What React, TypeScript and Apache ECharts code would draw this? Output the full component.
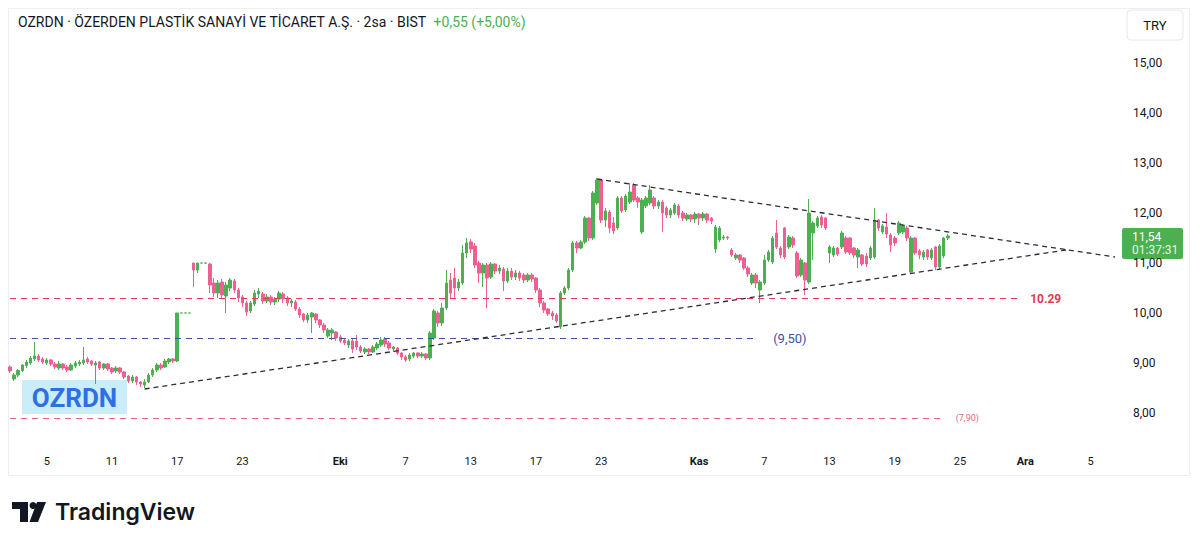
import React, { useEffect, useRef } from "react";
import * as echarts from "echarts";

// ---- Data (2h bars, [open, close, low, high]) ----
const sepCandles: number[][] = [
  [8.92, 8.84, 8.8, 8.95], [8.68, 8.76, 8.64, 8.8], [8.76, 8.85, 8.72, 8.88], [8.85, 8.96, 8.82, 8.98],
  [8.95, 9.02, 8.9, 9.06], [9.0, 9.1, 8.96, 9.14], [9.08, 9.14, 9.04, 9.42], [9.14, 9.06, 9.02, 9.18],
  [9.08, 9.02, 8.98, 9.12], [9.0, 9.06, 8.96, 9.1], [9.06, 8.98, 8.94, 9.08], [8.98, 8.92, 8.88, 9.02],
  [8.9, 8.98, 8.86, 9.04], [8.98, 8.9, 8.86, 9.0], [8.92, 8.86, 8.82, 8.96], [8.86, 8.96, 8.84, 9.0],
  [8.94, 9.0, 8.9, 9.04], [8.98, 9.02, 8.94, 9.06], [9.0, 9.06, 8.96, 9.32], [9.08, 9.02, 8.98, 9.12],
  [9.04, 8.98, 8.94, 9.06], [8.96, 9.0, 8.58, 9.04], [9.02, 8.9, 8.86, 9.04], [8.9, 8.98, 8.86, 9.0],
  [8.98, 8.88, 8.84, 9.0], [8.9, 8.82, 8.78, 8.92], [8.84, 8.9, 8.8, 8.94], [8.9, 8.82, 8.78, 8.92],
  [8.82, 8.72, 8.68, 8.84], [8.74, 8.64, 8.6, 8.76], [8.64, 8.72, 8.6, 8.76], [8.72, 8.62, 8.56, 8.74],
  [8.62, 8.58, 8.52, 8.64], [8.56, 8.62, 8.5, 8.68], [8.62, 8.76, 8.6, 8.8], [8.76, 8.86, 8.72, 8.9],
  [8.86, 8.96, 8.82, 9.0], [8.96, 8.9, 8.86, 9.0], [8.92, 9.04, 8.9, 9.08], [9.02, 9.08, 8.98, 9.1],
  [9.08, 9.04, 9.0, 9.1], [9.04, 10.0, 9.02, 10.0], [10, 10, 10, 10], [10, 10, 10, 10],
  [10, 10, 10, 10], [11.0, 10.86, 10.52, 11.0], [10.86, 11.0, 10.8, 11.0], [11, 11, 11, 11],
  [11.0, 11.0, 10.98, 11.0], [10.98, 10.56, 10.4, 11.0], [10.6, 10.4, 10.32, 10.7], [10.4, 10.6, 10.3, 10.66],
  [10.62, 10.36, 10.3, 10.68], [10.34, 10.56, 10.0, 10.62], [10.5, 10.66, 10.44, 10.7], [10.64, 10.46, 10.4, 10.68],
  [10.46, 10.3, 10.22, 10.5], [10.32, 10.2, 10.12, 10.36], [10.2, 10.02, 9.94, 10.24], [10.04, 10.2, 10.0, 10.24],
  [10.18, 10.4, 10.14, 10.46], [10.38, 10.44, 10.3, 10.5], [10.38, 10.24, 10.18, 10.42], [10.24, 10.32, 10.2, 10.38],
  [10.32, 10.22, 10.16, 10.36], [10.22, 10.28, 10.16, 10.32], [10.28, 10.4, 10.22, 10.44], [10.38, 10.28, 10.2, 10.42],
  [10.3, 10.2, 10.14, 10.34], [10.2, 10.24, 10.12, 10.28], [10.22, 10.08, 10.04, 10.26], [10.08, 9.96, 9.9, 10.12],
  [9.98, 9.86, 9.82, 10.0], [9.86, 9.96, 9.8, 10.0], [9.92, 10.0, 9.6, 10.02], [9.98, 9.86, 9.8, 10.0],
  [9.86, 9.76, 9.7, 9.88], [9.76, 9.66, 9.6, 9.8], [9.54, 9.66, 9.5, 9.7], [9.6, 9.66, 9.46, 9.7],
  [9.62, 9.5, 9.44, 9.64],
];

const octCandles: number[][] = [
  [9.52, 9.44, 9.4, 9.56], [9.46, 9.4, 9.36, 9.5], [9.36, 9.44, 9.3, 9.48], [9.44, 9.28, 9.2, 9.48],
  [9.44, 9.32, 9.26, 9.56], [9.32, 9.24, 9.2, 9.36], [9.22, 9.28, 9.18, 9.32], [9.28, 9.22, 9.18, 9.3],
  [9.22, 9.32, 9.2, 9.36], [9.3, 9.38, 9.26, 9.42], [9.36, 9.46, 9.32, 9.52], [9.48, 9.38, 9.32, 9.52],
  [9.4, 9.3, 9.26, 9.44], [9.28, 9.32, 9.22, 9.34], [9.3, 9.2, 9.16, 9.32], [9.2, 9.12, 9.06, 9.22],
  [9.12, 9.06, 9.02, 9.16], [9.08, 9.16, 9.04, 9.2], [9.14, 9.2, 9.1, 9.22], [9.2, 9.14, 9.1, 9.22],
  [9.14, 9.18, 9.1, 9.22], [9.18, 9.1, 9.06, 9.2], [9.1, 9.6, 9.06, 9.64], [9.5, 10.04, 9.46, 10.08],
  [10.0, 9.8, 9.72, 10.04], [9.8, 10.1, 9.74, 10.2], [10.1, 10.6, 10.06, 10.86], [10.66, 10.4, 10.3, 10.8],
  [10.7, 10.5, 10.28, 10.9], [10.5, 10.62, 10.44, 10.68], [10.6, 11.2, 10.56, 11.36], [11.2, 11.4, 11.1, 11.5],
  [11.42, 11.28, 11.2, 11.48], [11.34, 10.96, 10.9, 11.4], [11.0, 10.8, 10.6, 11.04], [10.8, 10.96, 10.52, 11.0],
  [10.96, 10.7, 10.1, 11.0], [10.72, 10.98, 10.68, 11.02], [10.98, 10.84, 10.78, 11.0], [10.84, 10.9, 10.78, 10.96],
  [10.88, 10.64, 10.44, 10.92], [10.64, 10.84, 10.6, 10.9], [10.84, 10.72, 10.66, 10.9], [10.72, 10.8, 10.66, 10.86],
  [10.8, 10.7, 10.64, 10.84], [10.76, 10.66, 10.6, 10.8], [10.66, 10.76, 10.62, 10.8], [10.76, 10.68, 10.62, 10.8],
  [10.7, 10.46, 10.4, 10.72], [10.46, 10.2, 10.12, 10.5], [10.2, 10.06, 10.0, 10.24], [10.08, 9.98, 9.94, 10.1],
  [10.0, 9.94, 9.86, 10.04], [9.96, 9.84, 9.8, 10.0], [9.72, 10.4, 9.68, 10.44], [10.4, 10.5, 10.36, 10.54],
  [10.5, 10.86, 10.46, 10.9], [10.86, 11.4, 10.82, 11.44], [11.4, 11.3, 11.2, 11.44], [11.3, 11.42, 11.28, 11.46],
  [11.42, 11.9, 11.38, 11.94], [11.9, 11.5, 11.44, 11.92], [11.5, 12.4, 11.46, 12.44], [12.2, 12.66, 12.16, 12.7],
  [12.66, 11.86, 11.8, 12.68], [11.86, 12.04, 11.72, 12.1], [12.02, 11.7, 11.6, 12.06], [11.8, 11.64, 11.58, 11.92],
  [11.7, 12.3, 11.66, 12.34], [12.3, 12.04, 12.0, 12.34], [12.06, 12.34, 12.02, 12.38], [12.22, 12.42, 12.18, 12.6],
  [12.56, 12.26, 12.22, 12.6], [12.3, 12.22, 12.1, 12.34], [11.62, 12.26, 11.58, 12.3], [12.14, 12.3, 12.1, 12.34],
  [12.2, 12.46, 12.16, 12.56], [12.3, 12.14, 12.08, 12.34], [12.14, 12.22, 12.08, 12.26], [12.22, 12.0, 11.62, 12.26],
  [12.1, 11.96, 11.9, 12.14], [11.96, 12.06, 11.9, 12.1], [12.0, 12.16, 11.96, 12.2], [12.14, 11.96, 11.9, 12.18],
  [12.0, 11.9, 11.84, 12.04], [11.88, 11.96, 11.84, 12.0], [11.96, 11.88, 11.82, 11.98], [11.88, 11.98, 11.8, 12.02],
];

const novCandles: number[][] = [
  [11.98, 11.9, 11.76, 12.0], [11.9, 11.98, 11.84, 12.02], [11.98, 11.86, 11.8, 12.0], [11.9, 11.84, 11.78, 11.92],
  [11.28, 11.72, 11.2, 11.76], [11.46, 11.7, 11.42, 11.74], [11.5, 11.52, 11.46, 11.56], [11.52, 11.5, 11.46, 11.54],
  [11.26, 11.16, 11.12, 11.3], [11.1, 11.16, 11.06, 11.2], [11.16, 11.06, 11.0, 11.18], [11.1, 10.9, 10.86, 11.12],
  [10.9, 10.78, 10.72, 10.94], [10.6, 10.76, 10.56, 10.8], [10.76, 10.6, 10.5, 10.8], [10.46, 10.62, 10.2, 10.66],
  [10.6, 11.06, 10.56, 11.16], [11.06, 11.22, 11.02, 11.26], [11.02, 11.5, 10.98, 11.54], [11.6, 11.32, 11.28, 11.86],
  [11.3, 11.16, 11.1, 11.34], [11.7, 11.12, 11.08, 11.72], [11.32, 11.52, 11.28, 11.56], [11.5, 11.36, 11.3, 11.54],
  [11.2, 10.74, 10.7, 11.24], [10.76, 11.06, 10.72, 11.1], [11.0, 10.66, 10.36, 11.02], [10.62, 12.0, 10.58, 12.28],
  [11.6, 11.8, 11.06, 11.84], [11.74, 11.9, 11.7, 11.94], [11.92, 11.76, 11.7, 11.96], [11.9, 11.7, 11.66, 11.92],
  [11.2, 11.32, 11.0, 11.36], [11.16, 11.3, 11.12, 11.34], [11.3, 11.18, 11.14, 11.32], [11.32, 11.6, 11.28, 11.64],
  [11.5, 11.22, 11.18, 11.54], [11.5, 11.2, 11.16, 11.52], [11.3, 11.16, 11.1, 11.32], [11.12, 11.26, 10.9, 11.3],
  [11.16, 10.98, 10.94, 11.18], [11.14, 10.98, 10.92, 11.2], [11.1, 11.3, 11.06, 11.34], [11.12, 11.86, 11.08, 12.1],
  [11.86, 11.7, 11.64, 11.88], [11.62, 11.74, 11.58, 11.78], [11.72, 11.58, 11.5, 12.0], [11.56, 11.36, 11.22, 11.6],
  [11.5, 11.4, 11.34, 11.54], [11.6, 11.8, 11.56, 11.84], [11.62, 11.74, 11.58, 11.78], [11.7, 11.5, 11.44, 11.74],
  [10.82, 11.5, 10.8, 11.54], [11.5, 11.2, 11.16, 11.52], [11.24, 11.16, 11.08, 11.28], [11.12, 11.22, 11.06, 11.26],
  [11.26, 11.12, 11.06, 11.28], [11.1, 11.26, 11.06, 11.3], [11.32, 10.92, 10.86, 11.34], [10.92, 11.34, 10.88, 11.38],
  [11.14, 11.5, 11.1, 11.52], [11.5, 11.54, 11.46, 11.58],
];

// ---- Axis / calendar ----
const firstBarLabel = "2025-09-02 16";
const firstTradingDay = [2025, 8, 3];
const holidays = ["2025-10-29"];
const barHours = [10, 12, 14, 16];
const totalBars = 272;
const labelDates = [
  "2025-09-05", "2025-09-11", "2025-09-17", "2025-09-23", "2025-10-01", "2025-10-07", "2025-10-13", "2025-10-17",
  "2025-10-23", "2025-11-03", "2025-11-07", "2025-11-13", "2025-11-19", "2025-11-25", "2025-12-01", "2025-12-05",
];
const labelTexts = ["5", "11", "17", "23", "Eki", "7", "13", "17", "23", "Kas", "7", "13", "19", "25", "Ara", "5"];
const monthLabels = ["Eki", "Kas", "Ara"];

// ---- Levels / drawings ----
const redLevel = 10.29;
const blueLevel = 9.5;
const lowLevel = 7.9;
const redLevelEndBar = 248;
const blueLevelEndBar = 183;
const lowLevelEndBar = 229;
const lowerTrend = [[33, 8.48], [259, 11.26]];
const upperTrend = [[144, 12.68], [271, 11.12]];
const lastPrice = 11.54;
const lastPriceText = "11,54";
const countdownText = "01:37:31";
const headerTitle = "OZRDN · ÖZERDEN PLASTİK SANAYİ VE TİCARET A.Ş. · 2sa · BIST";
const headerChange = "+0,55 (+5,00%)";

const UP = "#4caf50";
const DOWN = "#ef5f90";
const FONT = "Roboto, 'Noto Sans', sans-serif";

function buildCategories() {
  const cats: string[] = [firstBarLabel];
  const d = new Date(Date.UTC(firstTradingDay[0], firstTradingDay[1], firstTradingDay[2]));
  while (cats.length < totalBars) {
    const dow = d.getUTCDay();
    const iso = d.toISOString().slice(0, 10);
    if (dow !== 0 && dow !== 6 && !holidays.includes(iso)) {
      barHours.forEach((h) => cats.push(iso + " " + h));
    }
    d.setUTCDate(d.getUTCDate() + 1);
  }
  return cats.slice(0, totalBars);
}

export default function App() {
  const ref = useRef<HTMLDivElement>(null);
  useEffect(() => {
    if (!ref.current) return;
    const chart = echarts.init(ref.current, undefined, { renderer: "svg" });
    const cats = buildCategories();
    const labelByCat: Record<string, string> = {};
    labelDates.forEach((d, i) => (labelByCat[d + " " + barHours[0]] = labelTexts[i]));
    const candles = [...sepCandles, ...octCandles, ...novCandles];

    const hLine = (v: number, endBar: number, color: string, text: string, lbl: any) => [
      {
        coord: [0, v],
        lineStyle: { color, type: [6, 5], width: 1.2 },
        label: { show: true, position: "end", formatter: text, color, fontFamily: FONT, ...lbl },
      },
      { coord: [endBar, v] },
    ];
    const tLine = (pts: number[][]) => [
      { coord: pts[0], lineStyle: { color: "#2a2e39", type: [5, 4], width: 1.3 }, label: { show: false } },
      { coord: pts[1] },
    ];

    chart.setOption({
      animation: false,
      grid: { left: 0, right: 75, top: 5, bottom: 72 },
      xAxis: {
        type: "category",
        data: cats,
        boundaryGap: true,
        offset: -14,
        axisLine: { show: false },
        axisTick: { show: false },
        splitLine: { show: false },
        axisLabel: {
          interval: (_i: number, v: string) => labelByCat[v] !== undefined,
          formatter: (v: string) => {
            const t = labelByCat[v] ?? "";
            return monthLabels.includes(t) ? `{b|${t}}` : t;
          },
          margin: 7,
          color: "#131722",
          fontSize: 11,
          fontFamily: FONT,
          rich: { b: { fontWeight: "bold", fontSize: 11, color: "#131722", fontFamily: FONT } },
        },
      },
      yAxis: {
        type: "value",
        position: "right",
        min: 7,
        max: 16,
        interval: 1,
        scale: true,
        axisLine: { show: false },
        axisTick: { show: false },
        splitLine: { show: false },
        axisLabel: {
          margin: 16,
          color: "#131722",
          fontSize: 12,
          fontFamily: FONT,
          formatter: (v: number) => (v === 7 || v === 16 ? "" : v.toFixed(2).replace(".", ",")),
        },
      },
      series: [
        {
          type: "candlestick",
          data: candles,
          barWidth: 3,
          itemStyle: {
            color: UP,
            color0: DOWN,
            borderColor: UP,
            borderColor0: DOWN,
            borderColorDoji: UP,
            borderWidth: 1,
          },
          markLine: {
            silent: true,
            symbol: ["none", "none"],
            animation: false,
            data: [
              hLine(redLevel, redLevelEndBar, "#e8394f", "10.29", { fontWeight: "bold", fontSize: 12, distance: 9 }),
              hLine(blueLevel, blueLevelEndBar, "#3a55a0", "(9,50)", { fontSize: 13, distance: 17 }),
              hLine(lowLevel, lowLevelEndBar, "#e0677e", "(7,90)", { fontSize: 9, distance: 12 }),
              tLine(lowerTrend),
              tLine(upperTrend),
            ],
          },
        },
      ],
    });

    const py = chart.convertToPixel({ yAxisIndex: 0 }, lastPrice) as number;
    chart.setOption({
      graphic: [
        {
          type: "rect",
          silent: true,
          shape: { x: 0.5, y: 0.5, width: 1181, height: 467 },
          style: { fill: "none", stroke: "#eceef2", lineWidth: 1 },
        },
        {
          type: "text",
          x: 10,
          y: 14,
          style: {
            text: `{a|${headerTitle}}{g|  ${headerChange}}`,
            verticalAlign: "middle",
            rich: {
              a: { fontSize: 14, fill: "#131722", fontFamily: FONT },
              g: { fontSize: 14, fill: "#4caf50", fontFamily: FONT },
            },
          },
        },
        {
          type: "rect",
          shape: { x: 1119, y: 2, width: 56, height: 30, r: 4 },
          style: { fill: "#fff", stroke: "#e6e8ee", lineWidth: 1 },
        },
        {
          type: "text",
          x: 1147,
          y: 17,
          style: { text: "TRY", fontSize: 13, fill: "#131722", fontFamily: FONT, align: "center", verticalAlign: "middle" },
        },
        {
          type: "rect",
          shape: { x: 1114, y: py - 8, width: 61, height: 31, r: 2 },
          style: { fill: UP },
        },
        {
          type: "text",
          x: 1124,
          y: py + 0.5,
          style: { text: lastPriceText, fontSize: 12, fill: "#fff", fontFamily: FONT, verticalAlign: "middle" },
        },
        {
          type: "text",
          x: 1124,
          y: py + 14,
          style: { text: countdownText, fontSize: 12, fill: "#e8f5e9", fontFamily: FONT, verticalAlign: "middle" },
        },
        {
          type: "rect",
          shape: { x: 14, y: 372, width: 105, height: 34 },
          style: { fill: "#c9eef9" },
        },
        {
          type: "text",
          x: 66.5,
          y: 390,
          style: {
            text: "OZRDN",
            fontSize: 26,
            fontWeight: "bold",
            fill: "#2f6fe4",
            fontFamily: FONT,
            align: "center",
            verticalAlign: "middle",
          },
        },
        // TradingView logo mark
        { type: "rect", shape: { x: 4, y: 494, width: 16, height: 7 }, style: { fill: "#131722" } },
        { type: "rect", shape: { x: 12, y: 494, width: 8, height: 20 }, style: { fill: "#131722" } },
        { type: "circle", shape: { cx: 25, cy: 497.5, r: 3.5 }, style: { fill: "#131722" } },
        {
          type: "polygon",
          shape: { points: [[29, 494], [38, 494], [30, 514], [21.5, 514]] },
          style: { fill: "#131722" },
        },
        {
          type: "text",
          x: 47,
          y: 504,
          style: {
            text: "TradingView",
            fontSize: 23,
            fontWeight: 600,
            fill: "#131722",
            fontFamily: "Inter, Roboto, sans-serif",
            verticalAlign: "middle",
          },
        },
      ],
    });

    return () => chart.dispose();
  }, []);
  return <div ref={ref} style={{ width: 1184, height: 527 }} />;
}
